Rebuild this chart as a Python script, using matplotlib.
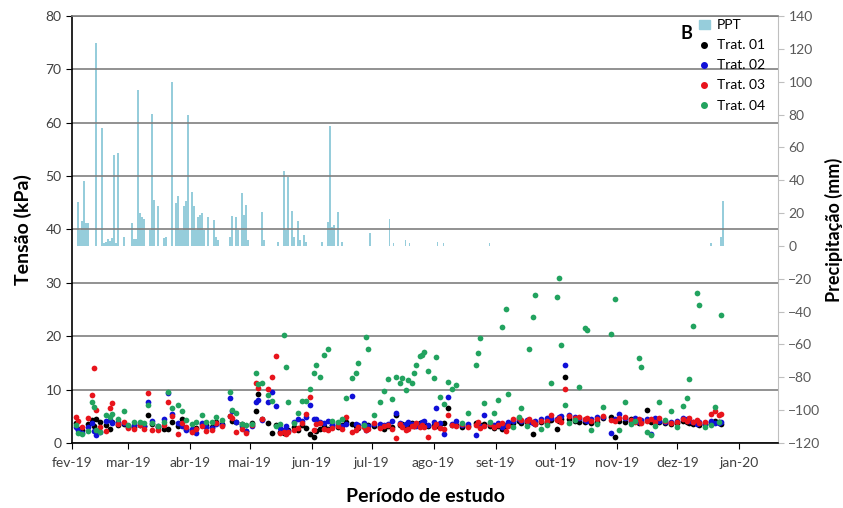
import numpy as np
import pandas as pd
import matplotlib
matplotlib.use('Agg')
from matplotlib import pyplot as plt
import matplotlib.dates as mdates
from matplotlib.patches import Patch
from matplotlib.lines import Line2D

plt.rcParams['font.family'] = ['Lato', 'DejaVu Sans']

inicio = pd.Timestamp('2019-02-01')

# precipitacao diaria (dia desde 01/02/2019, mm)
ppt_dia = [3, 4, 5, 6, 7, 8, 12, 15, 16, 17, 18, 19, 20, 21, 22, 23, 26, 30, 31, 32, 33, 34, 35, 36,
           39, 40, 41, 43, 46, 47, 50, 52, 53, 54, 55, 56, 57, 58, 60, 61, 62, 63, 64, 65, 66, 68,
           71, 72, 73, 79, 80, 82, 83, 85, 86, 87, 88, 95, 96, 103, 106, 107, 108, 110, 111, 113,
           114, 116, 117, 125, 128, 129, 130, 131, 133, 135, 149, 159, 161, 167, 169, 183, 186,
           209, 320, 325, 326]
ppt_mm = [27, 9.7, 15.4, 39.8, 14, 14, 123.5, 71.7, 2, 2.5, 4.3, 3, 4.9, 55.5, 2, 56.5, 5.7, 13.8,
          4.3, 4, 95, 19.9, 17.9, 16.3, 9.7, 80.4, 28, 24.5, 4.7, 5.3, 99.6, 26.4, 30.6, 9.7, 9.7,
          24.4, 27.6, 79.8, 32.7, 24.5, 9.7, 17.9, 18.9, 20.3, 9.7, 17.9, 15.8, 5.7, 3.7, 5.7, 18.3,
          17.9, 9.7, 32, 18.9, 25, 3.7, 20.9, 3.7, 2.6, 45.9, 9.7, 42.2, 21.3, 5.7, 15.2, 3.7, 6.7,
          2.6, 2.6, 14.8, 73, 11.8, 12.8, 20.9, 2.6, 7.7, 16.3, 2, 3.7, 2, 2.6, 1.6, 1.6, 1.6, 5.7,
          27.6]

# tensao (kPa) por tratamento nas datas de leitura
dias = [2, 3, 5, 8, 10, 11, 12, 14, 17, 19, 20, 23, 26,
        28, 31, 34, 36, 38, 40, 43, 46, 48, 50, 53, 55, 57,
        60, 62, 65, 67, 70, 72, 75, 79, 80, 82, 85, 87,
        90, 92, 93, 95, 98, 100, 102, 104, 106, 107, 108, 111, 113, 115, 117, 119,
        121, 122, 124, 126, 128, 130, 133, 135, 137, 140, 142, 143, 146, 147, 148,
        151, 154, 156, 158, 160, 162, 164, 165, 167, 168, 170, 171, 172, 174, 175, 176, 178,
        181, 182, 184, 186, 188, 190, 192, 195, 198, 202, 203, 204, 206, 209, 211,
        213, 215, 217, 218, 221, 224, 225, 228, 229, 231, 232, 235, 238, 240,
        243, 244, 245, 247, 249, 252, 254, 257, 258, 260, 263, 266, 270, 272,
        274, 277, 280, 282, 284, 285, 288, 290, 292, 294, 297, 300,
        303, 306, 308, 309, 311, 313, 314, 317, 320, 322, 324, 325]

t01 = [3.8, 2.7, 2.4, 3.5, 4.3, 3.1, 4.5, 3.9, 3.3, 2.7, 4.0, 3.4, 3.6,
       3.2, 3.0, 3.4, 3.2, 5.2, 3.6, 2.9, 2.6, 2.6, 3.9, 3.1, 4.5, 2.7,
       2.2, 2.8, 3.5, 3.3, 3.0, 4.0, 3.6, 5.0, 4.2, 3.9, 3.6, 2.2,
       3.7, 5.9, 9.2, 4.5, 3.8, 1.8, 3.3, 2.1, 1.9, 2.2, 2.5, 3.0, 2.4, 3.4, 2.8, 1.6,
       1.1, 2.3, 2.6, 3.1, 2.7, 3.3, 2.9, 3.4, 3.9, 3.6, 3.2, 2.8, 3.3, 3.0, 3.4,
       3.2, 3.0, 2.7, 3.1, 2.9, 5.2, 3.4, 3.6, 3.1, 3.3, 3.7, 3.2, 3.5, 3.8, 3.3, 3.6, 3.1,
       3.4, 3.2, 3.5, 3.7, 6.5, 3.4, 3.3, 3.0, 3.2, 3.8, 3.4, 3.3, 3.6, 3.1, 2.8,
       3.2, 2.6, 3.1, 3.5, 3.8, 4.2, 3.7, 3.9, 4.1, 1.7, 3.6, 3.9, 3.8, 4.3,
       2.7, 4.2, 4.4, 12.4, 4.5, 4.1, 4.0, 3.9, 4.3, 3.7, 4.0, 4.6, 4.8, 1.2,
       4.2, 3.9, 4.4, 4.1, 3.8, 4.0, 6.1, 3.9, 4.3, 4.0, 3.7, 3.6,
       3.8, 4.1, 3.9, 3.7, 3.5, 3.8, 3.4, 3.6, 3.9, 4.1, 4.0, 3.6]

t02 = [3.0, 2.4, 1.8, 2.9, 3.7, 2.3, 1.5, 2.0, 4.1, 4.3, 3.7, 4.0, 3.7,
       3.0, 3.4, 3.8, 3.1, 7.7, 4.2, 3.2, 4.4, 9.4, 5.4, 3.7, 3.2, 2.5,
       2.6, 1.9, 3.7, 3.0, 2.8, 3.5, 3.4, 8.4, 5.9, 4.0, 3.2, 2.3,
       3.2, 7.7, 8.1, 4.3, 7.7, 9.6, 6.9, 2.8, 2.4, 3.2, 2.2, 3.9, 4.5, 4.1, 4.8, 7.1,
       4.5, 4.4, 4.0, 3.7, 4.2, 3.4, 3.8, 3.2, 3.6, 8.8, 3.5, 3.3, 3.7, 2.4, 3.1,
       3.5, 3.6, 3.3, 3.5, 4.1, 5.6, 3.7, 3.3, 3.5, 3.9, 3.6, 3.4, 3.2, 3.6, 3.9, 4.2, 3.3,
       4.0, 6.6, 3.7, 1.7, 8.7, 3.6, 4.1, 3.4, 3.5, 1.5, 3.6, 3.2, 5.2, 3.5, 3.3,
       3.7, 3.0, 3.4, 3.9, 4.1, 4.5, 4.2, 4.3, 4.0, 3.8, 4.2, 4.4, 4.6, 4.7,
       4.4, 4.9, 5.1, 14.6, 5.3, 4.8, 4.6, 4.3, 4.1, 4.5, 4.9, 4.8, 1.8, 4.5,
       5.4, 4.7, 4.2, 4.6, 4.0, 4.3, 4.5, 1.7, 4.6, 4.2, 4.0, 3.9,
       4.2, 4.7, 4.5, 4.1, 4.0, 3.6, 3.9, 3.5, 4.2, 3.8, 3.7, 3.9]

t03 = [4.9, 4.2, 2.9, 4.6, 9.0, 14.0, 6.2, 3.0, 2.2, 6.5, 7.4, 3.6, 4.0,
       2.8, 2.7, 3.3, 2.6, 9.3, 2.4, 2.5, 3.3, 7.7, 5.0, 1.6, 3.7, 3.0,
       2.0, 2.6, 3.1, 2.3, 2.5, 3.8, 3.2, 5.1, 4.7, 2.0, 2.6, 1.8,
       3.3, 11.3, 10.3, 4.4, 10.2, 12.3, 16.3, 1.8, 2.0, 1.6, 2.1, 2.4, 2.8, 3.8, 5.5, 8.6,
       2.5, 3.5, 3.7, 2.7, 2.4, 2.8, 3.1, 2.6, 4.9, 2.0, 2.4, 2.9, 3.0, 2.5, 2.7,
       3.8, 2.8, 3.1, 3.3, 2.7, 0.9, 3.6, 2.9, 2.4, 2.6, 3.2, 3.1, 3.7, 3.0, 3.4, 3.0, 1.2,
       3.0, 3.6, 2.8, 2.7, 5.2, 3.4, 3.1, 3.5, 2.9, 3.3, 3.9, 2.8, 3.2, 3.6, 3.0,
       3.4, 3.7, 2.3, 3.1, 4.4, 4.7, 4.3, 4.1, 4.5, 3.9, 3.5, 4.1, 4.2, 5.2,
       4.3, 4.6, 4.0, 10.1, 5.0, 4.6, 4.9, 4.4, 4.7, 4.2, 4.5, 5.0, 4.3, 4.1,
       4.6, 4.9, 4.3, 4.0, 4.5, 3.7, 4.2, 4.4, 4.0, 4.6, 4.1, 3.8,
       4.0, 4.4, 4.2, 4.6, 3.9, 4.3, 3.7, 3.9, 5.4, 6.0, 5.2, 5.4]

t04 = [3.3, 1.9, 1.6, 2.2, 7.7, 6.8, 2.4, 2.0, 5.2, 4.9, 5.4, 4.4, 5.9,
       3.3, 3.9, 4.0, 3.7, 7.1, 3.8, 3.2, 4.0, 9.6, 6.6, 7.1, 5.9, 4.3,
       3.6, 3.9, 5.2, 3.9, 4.0, 4.8, 4.3, 9.6, 6.2, 5.6, 3.6, 3.4,
       3.5, 13.2, 11.0, 11.2, 9.0, 7.9, 3.2, 3.6, 20.2, 14.3, 7.6, 3.7, 5.6, 7.9, 7.9, 10.2,
       13.1, 14.7, 12.3, 16.4, 17.6, 4.2, 3.9, 4.5, 8.4, 12.1, 13.2, 14.9, 3.3, 19.8, 17.6,
       5.2, 7.6, 9.8, 11.9, 8.2, 12.4, 11.2, 12.2, 9.9, 11.8, 11.2, 13.2, 14.6, 16.3, 16.5, 17.1, 13.4,
       12.1, 16.2, 8.7, 7.3, 11.5, 10.1, 10.9, 3.7, 5.7, 14.7, 16.8, 19.6, 7.4, 3.9, 5.6,
       8.1, 21.8, 25.1, 9.1, 3.0, 4.9, 6.5, 3.2, 17.6, 23.6, 27.7, 2.6, 3.4, 11.3,
       27.4, 30.9, 18.4, 7.1, 3.8, 4.3, 10.4, 21.5, 21.2, 2.4, 3.5, 6.8, 20.4, 26.9,
       2.5, 7.7, 3.6, 4.2, 15.9, 14.3, 2.0, 1.5, 3.2, 7.7, 4.3, 5.9,
       3.0, 7.0, 8.5, 11.9, 22.0, 28.1, 25.9, 3.0, 3.4, 6.7, 4.0, 23.9]

meses = ['jan', 'fev', 'mar', 'abr', 'mai', 'jun', 'jul', 'ago', 'set', 'out', 'nov', 'dez']

datas = inicio + pd.to_timedelta(dias, unit='D')
ppt_datas = inicio + pd.to_timedelta(ppt_dia, unit='D')

fig = plt.figure(figsize=(8.43, 5.08), dpi=100)
ax = fig.add_axes([0.0854, 0.128, 0.8375, 0.8405])
ax2 = ax.twinx()

# chuva no eixo secundario
ax2.bar(ppt_datas, ppt_mm, width=0.85, color='#96cddb', linewidth=0, label='PPT', zorder=2)
ax2.set_ylim(-120, 140)
ax2.set_yticks(np.arange(-120, 141, 20))
ax2.tick_params(axis='y', direction='out', length=4, colors='#595959', labelsize=10,
                color='#bfbfbf')
ax2.set_ylabel('Precipitação (mm)', fontsize=13, fontweight='bold', labelpad=3)
for s in ['top', 'left', 'bottom']:
    ax2.spines[s].set_visible(False)
ax2.spines['right'].set_color('#bfbfbf')

# tensao por tratamento
ax.set_zorder(ax2.get_zorder() + 1)
ax.patch.set_visible(False)
cores = ['#000000', '#1010d8', '#e8141c', '#22a35f']
series = [t01, t02, t03, t04]
nomes = ['Trat. 01', 'Trat. 02', 'Trat. 03', 'Trat. 04']
for v, c, n in zip(series, cores, nomes):
    ax.scatter(datas, v, s=17, color=c, label=n, zorder=3, linewidths=0)

ax.set_ylim(0, 80)
ax.set_yticks(np.arange(0, 81, 10))
ax.set_xlim(inicio, inicio + pd.Timedelta(days=353.4))
ax.xaxis.set_major_locator(mdates.MonthLocator())
ax.xaxis.set_major_formatter(plt.FuncFormatter(
    lambda x, pos: '%s-%s' % (meses[mdates.num2date(x).month - 1], mdates.num2date(x).strftime('%y'))))
ax.grid(axis='y', color='#7f7f7f', linewidth=1.2)
ax.set_axisbelow(True)
ax.tick_params(axis='both', direction='out', length=4, colors='#404040', labelsize=10)
ax.tick_params(axis='x', color='black', pad=6)
ax.tick_params(axis='y', color='black')
for s in ['left', 'bottom']:
    ax.spines[s].set_color('black')
    ax.spines[s].set_linewidth(1.2)
ax.spines['right'].set_visible(False)
ax.spines['top'].set_color('#7f7f7f')
ax.spines['top'].set_linewidth(1.2)
ax.set_ylabel('Tensão (kPa)', fontsize=14, fontweight='bold', labelpad=10)
ax.set_xlabel('Período de estudo', fontsize=14, fontweight='bold', labelpad=14)

handles = [Patch(color='#96cddb', label='PPT')] + [
    Line2D([], [], marker='o', linestyle='', markersize=4, color=c, label=n)
    for c, n in zip(cores, nomes)]
ax.legend(handles=handles, loc='upper right', bbox_to_anchor=(0.995, 1.015), frameon=False,
          fontsize=10, handlelength=0.8, handletextpad=0.5, labelspacing=0.58, borderpad=0.2)
ax.text(0.862, 0.98, 'B', transform=ax.transAxes, fontsize=13, fontweight='bold', va='top')

fig.savefig('out.png', dpi=100)
